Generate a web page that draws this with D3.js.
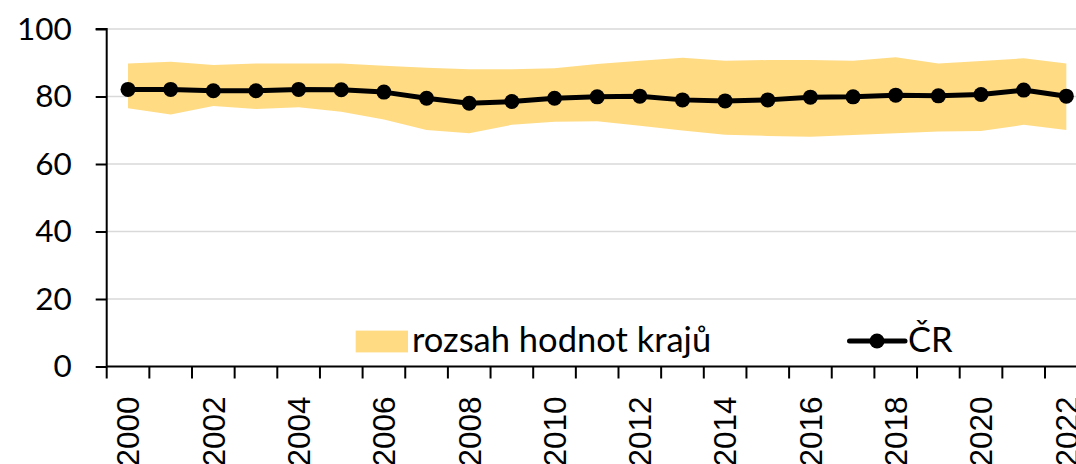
<!DOCTYPE html>
<html><head><meta charset="utf-8">
<script src="https://cdn.jsdelivr.net/npm/d3@7"></script>
<style>
html,body{margin:0;padding:0;background:#fff;overflow:hidden}
svg{display:block;font-family:Lato,"Noto Sans",sans-serif}
</style></head>
<body>
<svg id="chart" width="1076" height="464"></svg>
<script>
const years = ["2000","2001","2002","2003","2004","2005","2006","2007","2008","2009","2010","2011","2012","2013","2014","2015","2016","2017","2018","2019","2020","2021","2022"];
const crValues = [82.1,82.1,81.7,81.7,82.1,82.0,81.3,79.5,78.0,78.5,79.5,79.9,80.1,79.0,78.7,79.0,79.8,79.9,80.4,80.2,80.6,81.9,80.1];
const rangeMax = [89.8,90.3,89.3,89.8,89.8,89.8,89.1,88.5,88.1,88.1,88.4,89.6,90.6,91.5,90.6,90.8,90.8,90.6,91.6,89.8,90.5,91.3,89.8];
const rangeMin = [76.5,74.7,77.2,76.3,76.8,75.5,73.2,70.1,69.1,71.6,72.5,72.7,71.3,69.9,68.7,68.3,68.1,68.6,69.1,69.6,69.8,71.6,70.1];
const yTicks = [0,20,40,60,80,100];
const xTickLabels = ["2000","2002","2004","2006","2008","2010","2012","2014","2016","2018","2020","2022"];
const legendLabels = ["rozsah hodnot krajů","ČR"];

const svg = d3.select("#chart");
const mLeft = 106.7, bandW = 42.65, mTop = 29, mBottom = 366.5;
const x = d3.scaleBand().domain(years).range([mLeft, mLeft + bandW*years.length]).padding(0);
const y = d3.scaleLinear().domain([0,100]).range([mBottom, mTop]);
const cx = d => x(d) + x.bandwidth()/2;
const FS = 31.5, LFS = 34.5;

// gridlines
svg.append("g").selectAll("line").data(yTicks.filter(t=>t>0)).join("line")
  .attr("x1", mLeft).attr("x2", 1076).attr("y1", d=>y(d)).attr("y2", d=>y(d))
  .attr("stroke", "#d9d9d9").attr("stroke-width", 1.5);

// band
const data = years.map((yr,i)=>({yr, lo:rangeMin[i], hi:rangeMax[i], v:crValues[i]}));
svg.append("path").datum(data)
  .attr("d", d3.area().x(d=>cx(d.yr)).y0(d=>y(d.lo)).y1(d=>y(d.hi)))
  .attr("fill", "#FFDB84");

// y axis
const yAxis = d3.axisLeft(y).tickValues(yTicks).tickSize(11).tickPadding(24).tickFormat(d3.format("d"));
const gy = svg.append("g").attr("transform", `translate(${mLeft},0)`).call(yAxis);
gy.select(".domain").attr("stroke","#000").attr("stroke-width",2).attr("d", `M-11,${mTop}H0V${mBottom}`);
gy.selectAll(".tick line").attr("stroke","#000").attr("stroke-width",2);
gy.selectAll(".tick text").attr("font-size", FS).attr("fill","#000").attr("font-family","Lato");

// x axis
const xAxis = d3.axisBottom(x).tickSize(11).tickFormat("").tickSizeOuter(0);
const gx = svg.append("g").attr("transform", `translate(0,${mBottom})`).call(xAxis);
gx.select(".domain").attr("stroke","#000").attr("stroke-width",2).attr("d", `M${mLeft},0H1076`);
gx.selectAll(".tick").remove();
gx.selectAll("line.bt").data(years).join("line").attr("class","bt")
  .attr("x1", d=>x(d)).attr("x2", d=>x(d)).attr("y1",0).attr("y2",12)
  .attr("stroke","#000").attr("stroke-width",2);
gx.selectAll("text.xl").data(xTickLabels).join("text").attr("class","xl")
  .attr("transform", d=>`translate(${cx(d)},30) rotate(-90)`)
  .attr("text-anchor","end").attr("dy","0.36em")
  .attr("font-size", FS).attr("fill","#000").text(d=>d);

// line
svg.append("path").datum(data)
  .attr("d", d3.line().x(d=>cx(d.yr)).y(d=>y(d.v)))
  .attr("fill","none").attr("stroke","#000").attr("stroke-width",5).attr("stroke-linejoin","round");
svg.append("g").selectAll("circle").data(data).join("circle")
  .attr("cx", d=>cx(d.yr)).attr("cy", d=>y(d.v)).attr("r", 7.5).attr("fill","#000");

// legend
const lg = svg.append("g");
lg.append("rect").attr("x",355.7).attr("y",330.6).attr("width",52.3).attr("height",21.8).attr("fill","#FFDB84");
lg.append("text").attr("x",412).attr("y",352).attr("font-size",LFS).attr("fill","#000").text(legendLabels[0]);
lg.append("line").attr("x1",849.5).attr("x2",905).attr("y1",341).attr("y2",341).attr("stroke","#000").attr("stroke-width",5).attr("stroke-linecap","round");
lg.append("circle").attr("cx",877).attr("cy",341).attr("r",7.5).attr("fill","#000");
lg.append("text").attr("x",908).attr("y",352).attr("font-size",LFS).attr("fill","#000").text(legendLabels[1]);
</script>
</body></html>
